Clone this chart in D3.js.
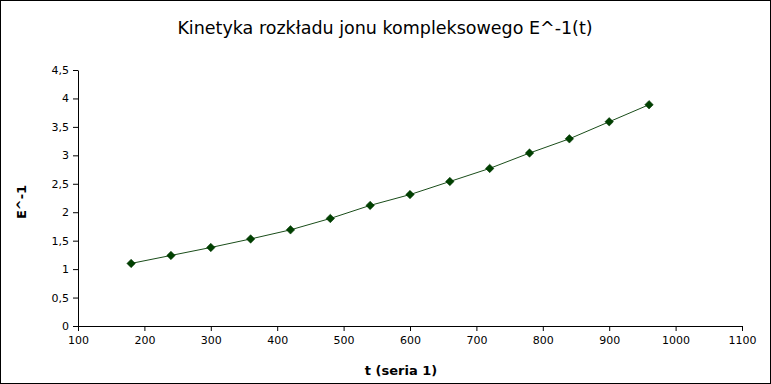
<!DOCTYPE html>
<html>
<head>
<meta charset="utf-8">
<script src="https://cdn.jsdelivr.net/npm/d3@7"></script>
<style>
  body { margin: 0; background: #fff; }
  text { font-family: "DejaVu Sans", sans-serif; }
</style>
</head>
<body>
<div id="chart"></div>
<script>
const tValues = [180, 240, 300, 360, 420, 480, 540, 600, 660, 720, 780, 840, 900, 960];
const eInv = [1.10, 1.24, 1.38, 1.53, 1.69, 1.89, 2.12, 2.31, 2.54, 2.77, 3.04, 3.29, 3.59, 3.89];
const xTicks = [100, 200, 300, 400, 500, 600, 700, 800, 900, 1000, 1100];
const yTicks = [0, 0.5, 1, 1.5, 2, 2.5, 3, 3.5, 4, 4.5];

const width = 771, height = 384;
const margin = { left: 78, right: 29, top: 70, bottom: 58 };

const svg = d3.select("#chart").append("svg")
  .attr("width", width)
  .attr("height", height);

svg.append("rect")
  .attr("x", 0.5).attr("y", 0.5)
  .attr("width", width - 1).attr("height", height - 1)
  .attr("fill", "#fff").attr("stroke", "#000");

const x = d3.scaleLinear().domain([100, 1100]).range([margin.left, width - margin.right]);
const y = d3.scaleLinear().domain([0, 4.5]).range([height - margin.bottom, margin.top]);

const fmt = d => String(d).replace(".", ",");

const xAxis = svg.append("g")
  .attr("transform", `translate(0,${height - margin.bottom})`)
  .call(d3.axisBottom(x).tickValues(xTicks).tickFormat(fmt).tickSize(5).tickSizeOuter(0));
const yAxis = svg.append("g")
  .attr("transform", `translate(${margin.left},0)`)
  .call(d3.axisLeft(y).tickValues(yTicks).tickFormat(fmt).tickSize(5).tickSizeOuter(0));

[xAxis, yAxis].forEach(g => {
  g.selectAll("path, line").attr("stroke", "#000");
  g.selectAll("text").attr("fill", "#000").style("font-size", "11px")
    .style("font-family", "DejaVu Sans, sans-serif");
});
xAxis.selectAll("text").attr("dy", "0.9em");
yAxis.selectAll("text").attr("x", -9);

const pts = tValues.map((t, i) => [t, eInv[i]]);

svg.append("path")
  .datum(pts)
  .attr("fill", "none")
  .attr("stroke", "#1a4d1a")
  .attr("stroke-width", 1)
  .attr("d", d3.line().x(d => x(d[0])).y(d => y(d[1])));

svg.append("g").selectAll("path")
  .data(pts)
  .join("path")
  .attr("transform", d => `translate(${x(d[0])},${y(d[1])}) rotate(45)`)
  .attr("d", "M-3,-3H3V3H-3Z")
  .attr("fill", "#004000")
  .attr("stroke", "#003300")
  .attr("stroke-width", 0.5);

svg.append("text")
  .attr("x", 385).attr("y", 34)
  .attr("text-anchor", "middle")
  .style("font-size", "17.5px")
  .text("Kinetyka rozkładu jonu kompleksowego E^-1(t)");

svg.append("text")
  .attr("x", 401).attr("y", 375)
  .attr("text-anchor", "middle")
  .style("font-size", "13px")
  .style("font-weight", "bold")
  .text("t (seria 1)");

svg.append("text")
  .attr("transform", "translate(26,202) rotate(-90)")
  .attr("text-anchor", "middle")
  .style("font-size", "13px")
  .style("font-weight", "bold")
  .text("E^-1");
</script>
</body>
</html>
